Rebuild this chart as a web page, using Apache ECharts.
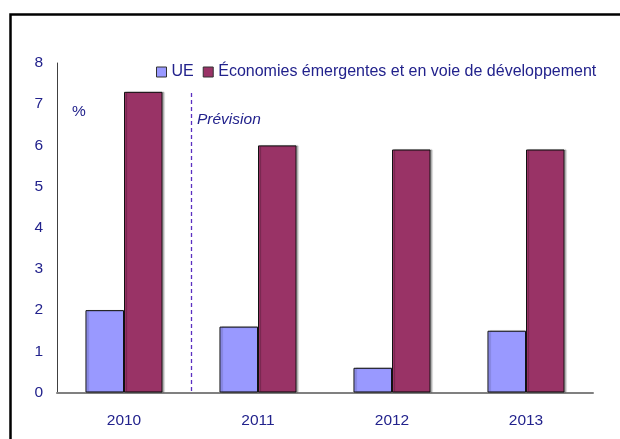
<!DOCTYPE html>
<html><head><meta charset="utf-8">
<script src="https://cdn.jsdelivr.net/npm/echarts@6/dist/echarts.min.js"></script>
<style>html,body{margin:0;padding:0;background:#fff}#c{width:620px;height:439px}</style>
</head><body><div id="c"></div>
<script>
const categories = ['2010', '2011', '2012', '2013'];
const ueValues = [2.0, 1.6, 0.6, 1.5];
const emValues = [7.3, 6.0, 5.9, 5.9];
const seriesNames = ['UE', 'Économies émergentes et en voie de développement'];
const yTicks = [0, 1, 2, 3, 4, 5, 6, 7, 8];

const txt = '#22228c';
const font = '"Liberation Sans", Arial, sans-serif';
const chart = echarts.init(document.getElementById('c'), null, {renderer: 'canvas'});
const barStyle = (c) => ({color: c, borderColor: '#111', borderWidth: 1,
  shadowColor: 'rgba(0,0,0,0.25)', shadowOffsetX: 2, shadowOffsetY: 0, shadowBlur: 1});
chart.setOption({
  animation: false,
  backgroundColor: '#fff',
  grid: {left: 57, right: 27, top: 63, bottom: 46.5},
  legend: {
    left: 151, top: 59, itemWidth: 10, itemHeight: 10, itemGap: 9,
    icon: 'rect',
    itemStyle: {borderColor: '#333', borderWidth: 1},
    textStyle: {color: txt, fontSize: 16, fontFamily: font},
    data: seriesNames
  },
  xAxis: {
    type: 'category', data: categories,
    axisLine: {lineStyle: {color: '#808080', width: 2}},
    axisTick: {show: false},
    axisLabel: {color: txt, fontSize: 15.5, fontFamily: font, margin: 20}
  },
  yAxis: {
    type: 'value', min: yTicks[0], max: yTicks[yTicks.length - 1], interval: 1,
    axisLine: {show: true, lineStyle: {color: '#404040', width: 1}},
    axisTick: {show: false},
    splitLine: {show: false},
    axisLabel: {color: txt, fontSize: 15.5, fontFamily: font, margin: 14}
  },
  series: [
    {name: seriesNames[0], type: 'bar', data: ueValues,
      barGap: '0%', barCategoryGap: '42.5%', itemStyle: barStyle('#9999ff')},
    {name: seriesNames[1], type: 'bar', data: emValues,
      barGap: '0%', barCategoryGap: '42.5%', itemStyle: barStyle('#993366')}
  ]
});
// forecast divider: halfway between the first two categories
const x0 = chart.convertToPixel({xAxisIndex: 0}, categories[0]);
const x1 = chart.convertToPixel({xAxisIndex: 0}, categories[1]);
const yBase = chart.convertToPixel({yAxisIndex: 0}, 0);
const xd = Math.round((x0 + x1) / 2) + 0.5;
chart.setOption({
  graphic: [
    {type: 'rect', left: 8, top: 12, shape: {width: 700, height: 500},
      style: {fill: 'none', stroke: '#000', lineWidth: 2.5}},
    {type: 'text', left: 72, top: 104, style: {text: '%', fill: txt, font: '15.5px ' + font}},
    {type: 'text', left: 197, top: 112, style: {text: 'Prévision', fill: txt, font: 'italic 15.5px ' + font}},
    {type: 'line', shape: {x1: xd, y1: 93, x2: xd, y2: yBase},
      style: {stroke: '#5a2fc0', lineWidth: 1.3, lineDash: [4, 3]}}
  ]
});
</script></body></html>
